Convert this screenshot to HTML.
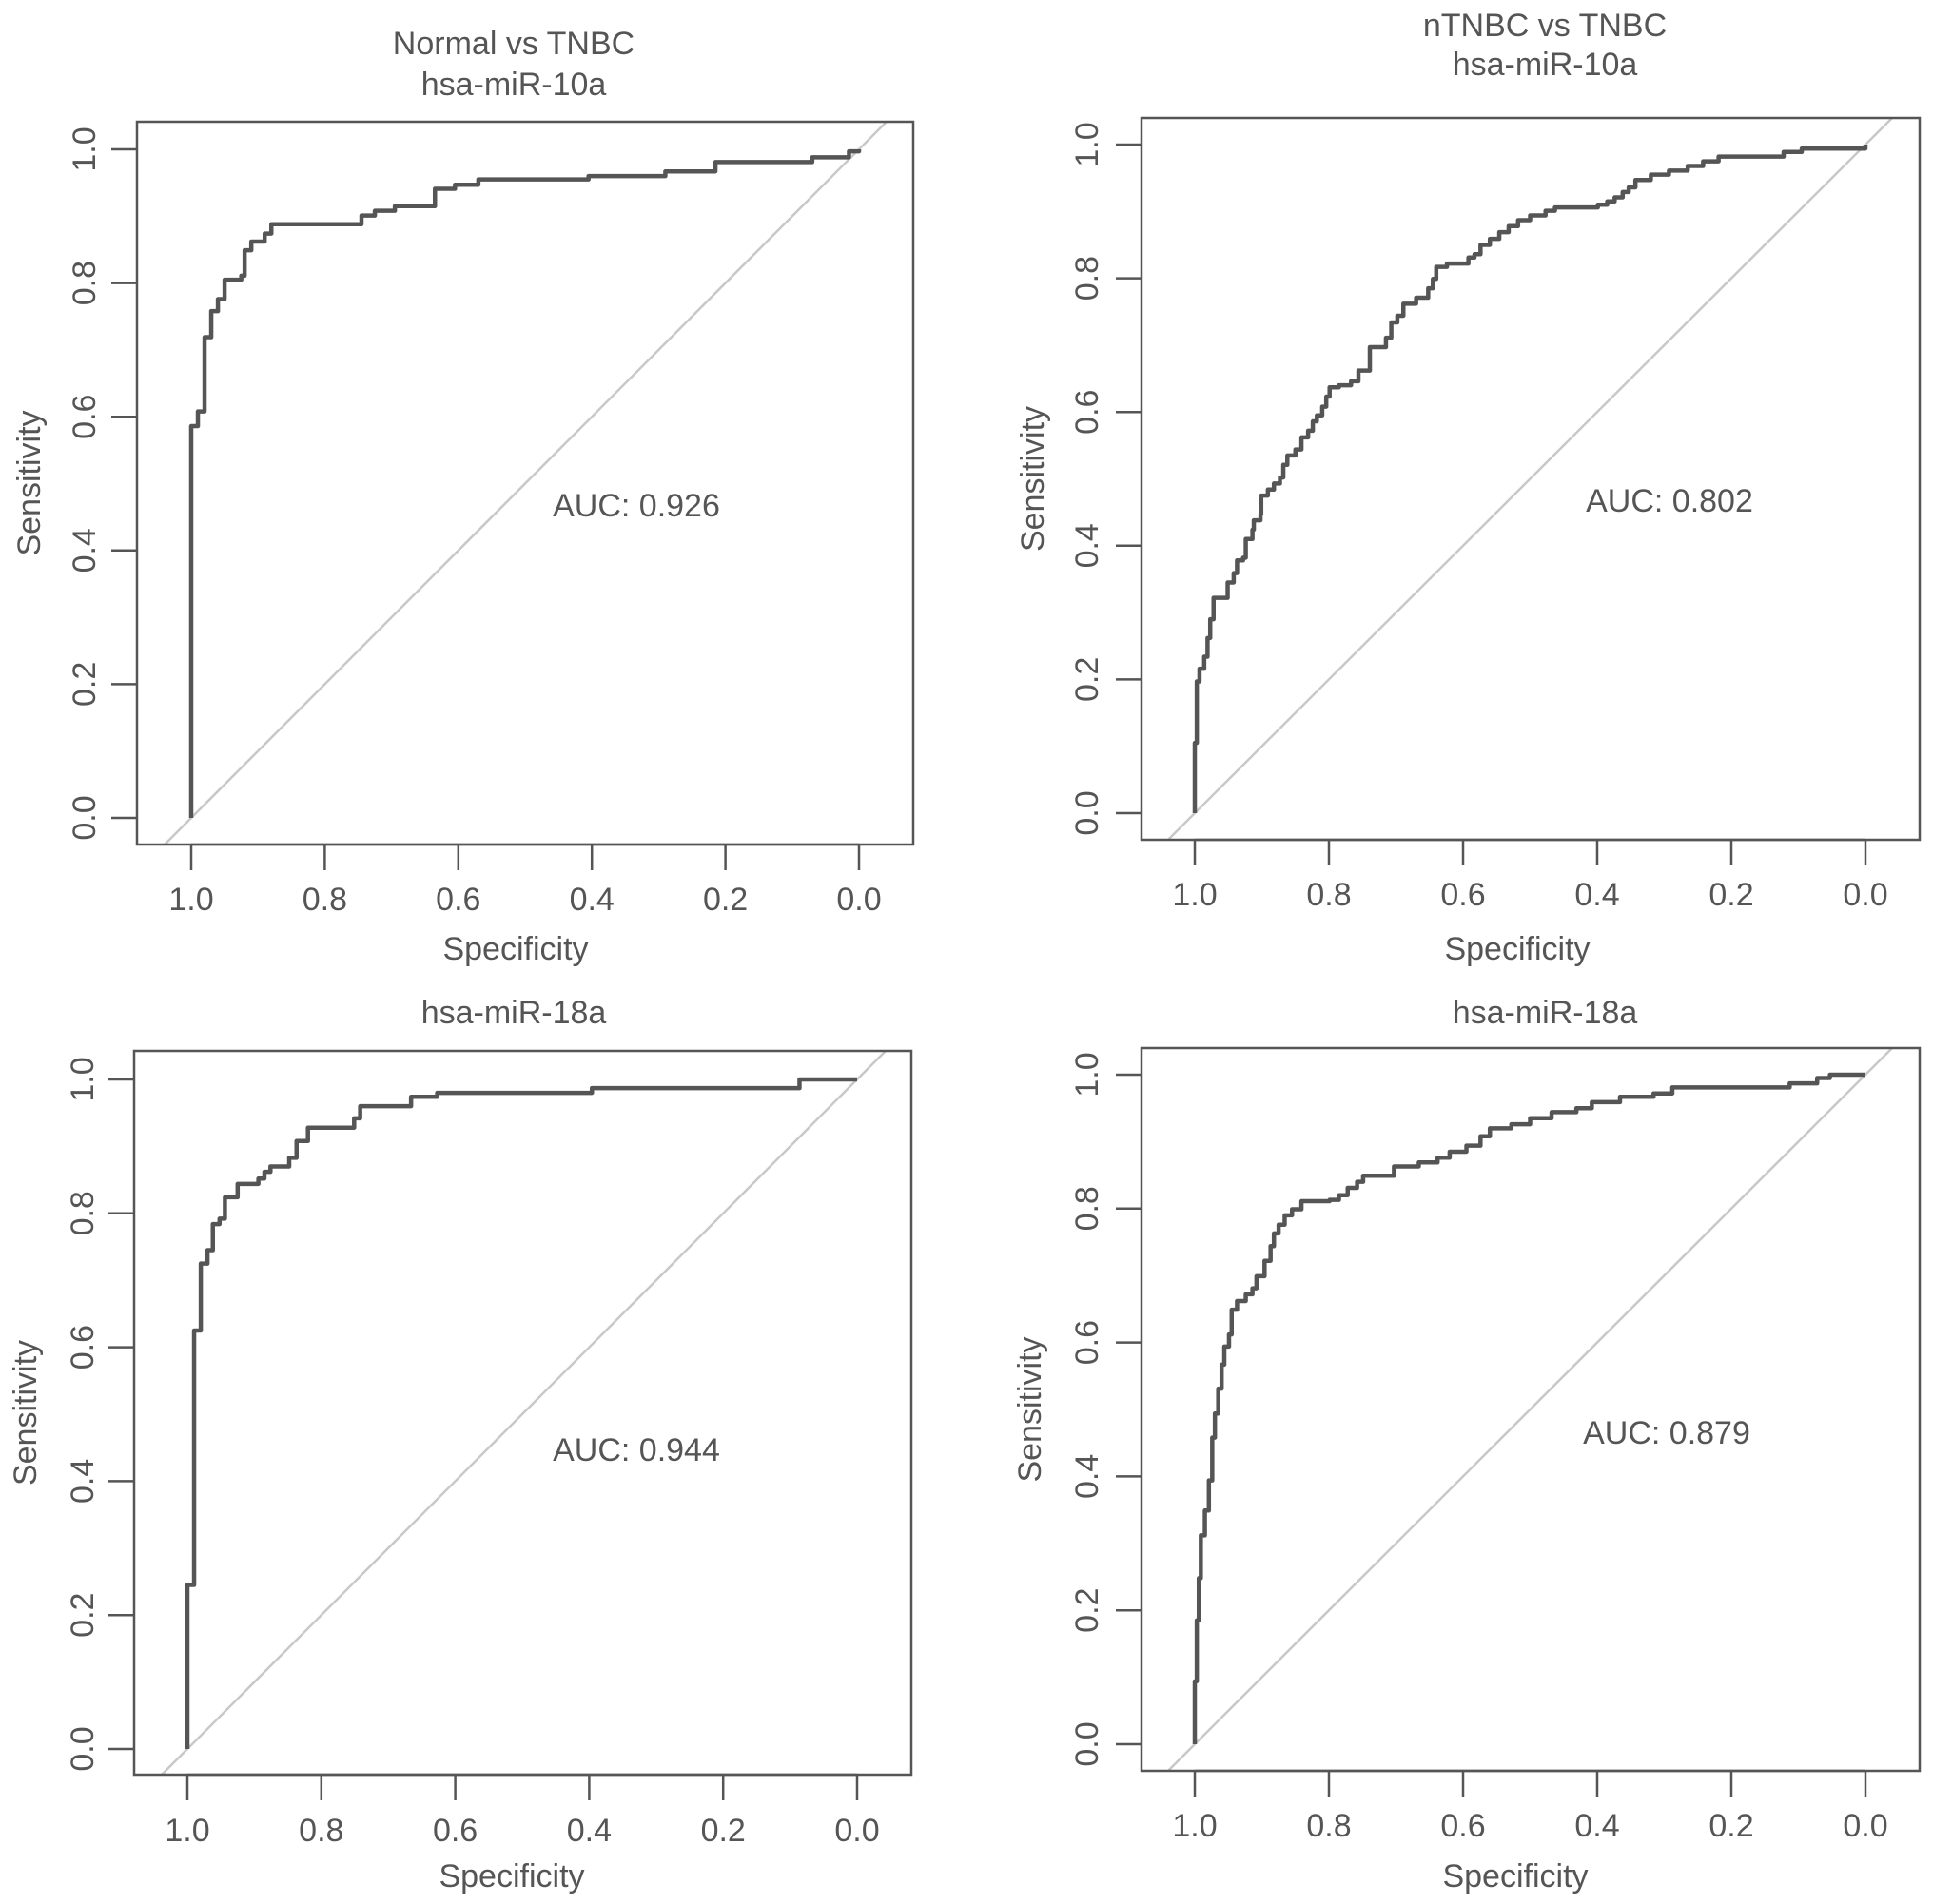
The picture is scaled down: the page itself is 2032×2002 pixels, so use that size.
<!DOCTYPE html>
<html><head><meta charset="utf-8"><style>
html,body{margin:0;padding:0;background:#fff}
svg{display:block}
text{font-family:"Liberation Sans",sans-serif;fill:#555;font-size:34px}
</style></head><body>
<svg id="fig" width="2032" height="2002" viewBox="0 0 2032 2002" xmlns="http://www.w3.org/2000/svg"></svg>
<script>
const xTicks = [1.0, 0.8, 0.6, 0.4, 0.2, 0.0];
const yTicks = [0.0, 0.2, 0.4, 0.6, 0.8, 1.0];
const tickLabels = ["0.0", "0.2", "0.4", "0.6", "0.8", "1.0"];

const tlSpec = [1,1,0.99,0.98,0.97,0.96,0.95,0.925,0.92,0.91,0.89,0.88,0.745,0.725,0.695,0.635,0.605,0.57,0.405,0.29,0.215,0.07,0.015,0];
const tlSens = [0,0.586,0.608,0.719,0.758,0.776,0.805,0.811,0.849,0.862,0.874,0.888,0.901,0.908,0.915,0.941,0.947,0.955,0.96,0.967,0.981,0.988,0.997,1];

const blSpec = [1,1,0.99,0.98,0.97,0.962,0.952,0.944,0.925,0.894,0.885,0.876,0.848,0.837,0.82,0.751,0.742,0.666,0.627,0.396,0.086,0];
const blSens = [0,0.245,0.625,0.725,0.745,0.784,0.792,0.824,0.844,0.852,0.862,0.87,0.883,0.908,0.928,0.942,0.96,0.974,0.98,0.987,1,1];

const trSpec = [1,1,0.997,0.993,0.986,0.981,0.977,0.972,0.956,0.951,0.942,0.937,0.928,0.924,0.914,0.912,0.902,0.901,0.891,0.882,0.873,0.868,0.862,0.85,0.841,0.831,0.824,0.818,0.81,0.804,0.799,0.785,0.767,0.756,0.739,0.718,0.715,0.707,0.698,0.689,0.67,0.652,0.645,0.64,0.624,0.592,0.583,0.574,0.56,0.546,0.532,0.518,0.5,0.477,0.463,0.399,0.385,0.374,0.362,0.353,0.343,0.32,0.293,0.265,0.242,0.219,0.122,0.095,0];
const trSens = [0,0.105,0.197,0.216,0.234,0.262,0.29,0.322,0.322,0.345,0.359,0.378,0.382,0.41,0.424,0.438,0.447,0.475,0.484,0.493,0.502,0.521,0.535,0.544,0.562,0.572,0.586,0.595,0.608,0.623,0.637,0.64,0.646,0.662,0.697,0.697,0.711,0.734,0.744,0.762,0.771,0.785,0.799,0.817,0.822,0.831,0.836,0.85,0.859,0.869,0.878,0.887,0.894,0.901,0.906,0.91,0.915,0.921,0.929,0.936,0.947,0.955,0.961,0.968,0.975,0.982,0.989,0.994,1];

const brSpec = [1,1,0.997,0.994,0.991,0.985,0.979,0.974,0.97,0.965,0.96,0.956,0.949,0.945,0.937,0.924,0.914,0.908,0.896,0.887,0.882,0.875,0.866,0.855,0.841,0.799,0.785,0.772,0.758,0.749,0.703,0.666,0.638,0.62,0.595,0.574,0.56,0.528,0.5,0.468,0.431,0.408,0.366,0.316,0.288,0.113,0.072,0.053,0];
const brSens = [0,0.094,0.185,0.248,0.312,0.349,0.394,0.458,0.494,0.531,0.567,0.594,0.612,0.649,0.662,0.672,0.681,0.699,0.722,0.744,0.763,0.776,0.79,0.799,0.811,0.813,0.82,0.831,0.84,0.849,0.863,0.869,0.876,0.885,0.894,0.908,0.92,0.926,0.935,0.944,0.95,0.959,0.967,0.972,0.981,0.987,0.995,1,1];

const aucLabels = ["AUC: 0.926", "AUC: 0.802", "AUC: 0.944", "AUC: 0.879"];

const NS = "http://www.w3.org/2000/svg";
const svg = document.getElementById("fig");
function mk(tag, attrs, parent) {
  const e = document.createElementNS(NS, tag);
  for (const k in attrs) e.setAttribute(k, attrs[k]);
  (parent || svg).appendChild(e);
  return e;
}

const panels = [
  {id:"tl", L:144,R:960,T:128,B:888, x1:201,x0:903, y1:157,y0:860, titles:[["Normal vs TNBC",45],["hsa-miR-10a",88]], tx:540, spec:tlSpec, sens:tlSens, auc:aucLabels[0], ax:669, ay:531, ylx:88, slx:30, xly:945, sxy:997, sx:542},
  {id:"tr", L:1200,R:2018,T:124,B:883, x1:1256,x0:1961, y1:152,y0:855, titles:[["nTNBC vs TNBC",26],["hsa-miR-10a",67]], tx:1624, spec:trSpec, sens:trSens, auc:aucLabels[1], ax:1755, ay:526, ylx:1142, slx:1085, xly:940, sxy:997, sx:1595},
  {id:"bl", L:141,R:958,T:1105,B:1866, x1:197,x0:901, y1:1135,y0:1839, titles:[["hsa-miR-18a",1064]], tx:540, spec:blSpec, sens:blSens, auc:aucLabels[2], ax:669, ay:1524, ylx:86, slx:26, xly:1924, sxy:1972, sx:538},
  {id:"br", L:1200,R:2018,T:1102,B:1862, x1:1256,x0:1961, y1:1130,y0:1834, titles:[["hsa-miR-18a",1064]], tx:1624, spec:brSpec, sens:brSens, auc:aucLabels[3], ax:1752, ay:1506, ylx:1142, slx:1082, xly:1919, sxy:1972, sx:1593}
];

panels.forEach(p => {
  const g = mk("g", {});
  
  
  const xs = v => p.x0 + (p.x1 - p.x0) * v;
  const ys = v => p.y0 + (p.y1 - p.y0) * v;
  const cid = "clip-" + p.id;
  const cp = mk("clipPath", {id: cid}, g);
  mk("rect", {x:p.L, y:p.T, width:p.R-p.L, height:p.B-p.T}, cp);

  const diag = mk("line", {x1:xs(1.2), y1:ys(-0.2), x2:xs(-0.2), y2:ys(1.2), stroke:"#c8c8c8", "stroke-width":2.5, "clip-path":"url(#"+cid+")"}, g);
  
  

  let d = "M" + xs(p.spec[0]) + "," + ys(p.sens[0]);
  for (let i = 1; i < p.spec.length; i++) {
    d += " H" + xs(p.spec[i]) + " V" + ys(p.sens[i]);
  }
  const curve = mk("path", {d:d, fill:"none", stroke:"#555", "stroke-width":4.5, "stroke-linejoin":"round"}, g);
  
  

  const box = mk("rect", {x:p.L, y:p.T, width:p.R-p.L, height:p.B-p.T, fill:"none", stroke:"#555", "stroke-width":2.5}, g);
  
  

  mk("line", {x1:xs(xTicks[0]), y1:p.B, x2:xs(xTicks[xTicks.length-1]), y2:p.B, stroke:"#555","stroke-width":2.5}, g);
  xTicks.forEach((v, i) => {
    mk("line", {x1:xs(v), y1:p.B, x2:xs(v), y2:p.B+27, stroke:"#555","stroke-width":2.5}, g);
    const t = mk("text", {x:xs(v), y:p.xly+12, "text-anchor":"middle"}, g);
    t.textContent = tickLabels[tickLabels.length-1-i];
    
    
  });
  yTicks.forEach((v, i) => {
    mk("line", {x1:p.L, y1:ys(v), x2:p.L-27, y2:ys(v), stroke:"#555","stroke-width":2.5}, g);
    const t = mk("text", {x:0, y:0, "text-anchor":"middle", transform:"translate("+(p.ylx+12)+","+ys(v)+") rotate(-90)"}, g);
    t.textContent = tickLabels[i];
    
    
  });

  const xt = mk("text", {x:p.sx, y:p.sxy+12, "text-anchor":"middle"}, g);
  xt.textContent = "Specificity";
  
  

  const yt = mk("text", {x:0, y:0, "text-anchor":"middle", transform:"translate("+(p.slx+12)+","+((p.T+p.B)/2)+") rotate(-90)"}, g);
  yt.textContent = "Sensitivity";
  
  

  p.titles.forEach(tl => {
    const t = mk("text", {x:p.tx, y:tl[1]+12, "text-anchor":"middle"}, g);
    t.textContent = tl[0];
    
    
  });

  const a = mk("text", {x:p.ax, y:p.ay+12, "text-anchor":"middle"}, g);
  a.textContent = p.auc;
  
  
});
</script>
</body></html>
